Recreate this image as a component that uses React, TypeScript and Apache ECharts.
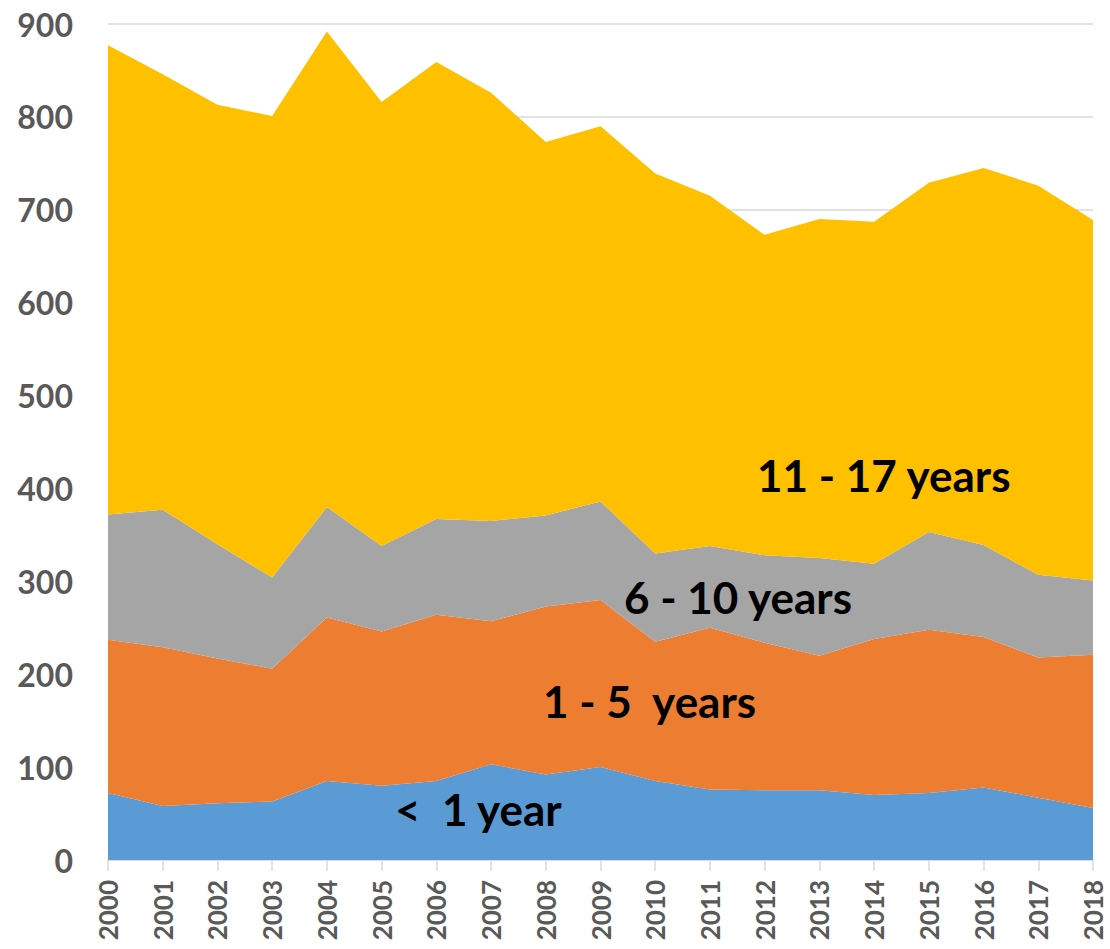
import React, { useEffect, useRef } from "react";
import * as echarts from "echarts";

const years = ["2000","2001","2002","2003","2004","2005","2006","2007","2008","2009","2010","2011","2012","2013","2014","2015","2016","2017","2018"];
const underOne = [72, 58, 61, 63, 85, 80, 85, 103, 92, 100, 85, 76, 75, 75, 70, 72, 78, 67, 56];
const oneToFive = [165, 171, 156, 143, 176, 166, 179, 154, 181, 180, 150, 174, 159, 145, 168, 176, 162, 151, 165];
const sixToTen = [135, 148, 123, 98, 119, 92, 103, 108, 98, 106, 95, 88, 94, 105, 81, 105, 99, 89, 80];
const elevenToSeventeen = [505, 469, 473, 497, 512, 478, 492, 461, 402, 404, 409, 377, 345, 365, 368, 376, 406, 419, 388];
const seriesNames = ["<  1 year", "1 - 5  years", "6 - 10 years", "11 - 17 years"];
const colors = ["#5B9BD5", "#ED7D31", "#A5A5A5", "#FFC000"];
const yTicks = { min: 0, max: 900, interval: 100 };

const FONT = "Lato, 'Noto Sans', sans-serif";

export default function App() {
  const ref = useRef<HTMLDivElement>(null);
  useEffect(() => {
    if (!ref.current) return;
    const chart = echarts.init(ref.current, undefined, { renderer: "svg" });
    const data = [underOne, oneToFive, sixToTen, elevenToSeventeen];
    const labelPos = [
      { x: 395, y: 809 },
      { x: 543, y: 701 },
      { x: 624, y: 597 },
      { x: 757, y: 475 },
    ];
    chart.setOption({
      animation: false,
      grid: { left: 108, right: 17, top: 24, bottom: 89, containLabel: false },
      xAxis: {
        type: "category",
        data: years,
        boundaryGap: false,
        axisLine: { lineStyle: { color: "#D9D9D9", width: 1.5 } },
        axisTick: { show: true, length: 11, alignWithLabel: true, lineStyle: { color: "#D9D9D9", width: 1.5 } },
        axisLabel: {
          rotate: 90,
          margin: 20,
          color: "#595959",
          fontWeight: "bold",
          fontSize: 26,
          fontFamily: FONT,
          interval: 0,
        },
        splitLine: { show: false },
      },
      yAxis: {
        type: "value",
        min: yTicks.min,
        max: yTicks.max,
        interval: yTicks.interval,
        axisLine: { show: false },
        axisTick: { show: false },
        axisLabel: {
          margin: 35,
          color: "#595959",
          fontWeight: "bold",
          fontSize: 32,
          fontFamily: FONT,
        },
        splitLine: { lineStyle: { color: "#D9D9D9", width: 1.5 } },
      },
      series: data.map((d, i) => ({
        name: seriesNames[i],
        type: "line",
        stack: "total",
        data: d,
        symbol: "none",
        showSymbol: false,
        lineStyle: { width: 0 },
        areaStyle: { color: colors[i], opacity: 1 },
        itemStyle: { color: colors[i] },
        z: 2,
      })),
      graphic: seriesNames.map((name, i) => ({
        type: "text",
        x: labelPos[i].x,
        y: labelPos[i].y,
        z: 100,
        style: {
          text: name,
          fill: "#000000",
          font: `bold 44px ${FONT}`,
          textAlign: "left",
          textVerticalAlign: "middle",
        },
      })),
    });
    return () => chart.dispose();
  }, []);
  return (
    <div
      ref={ref}
      style={{ position: "fixed", left: 0, top: 0, width: 1110, height: 949, background: "#fff" }}
    />
  );
}
